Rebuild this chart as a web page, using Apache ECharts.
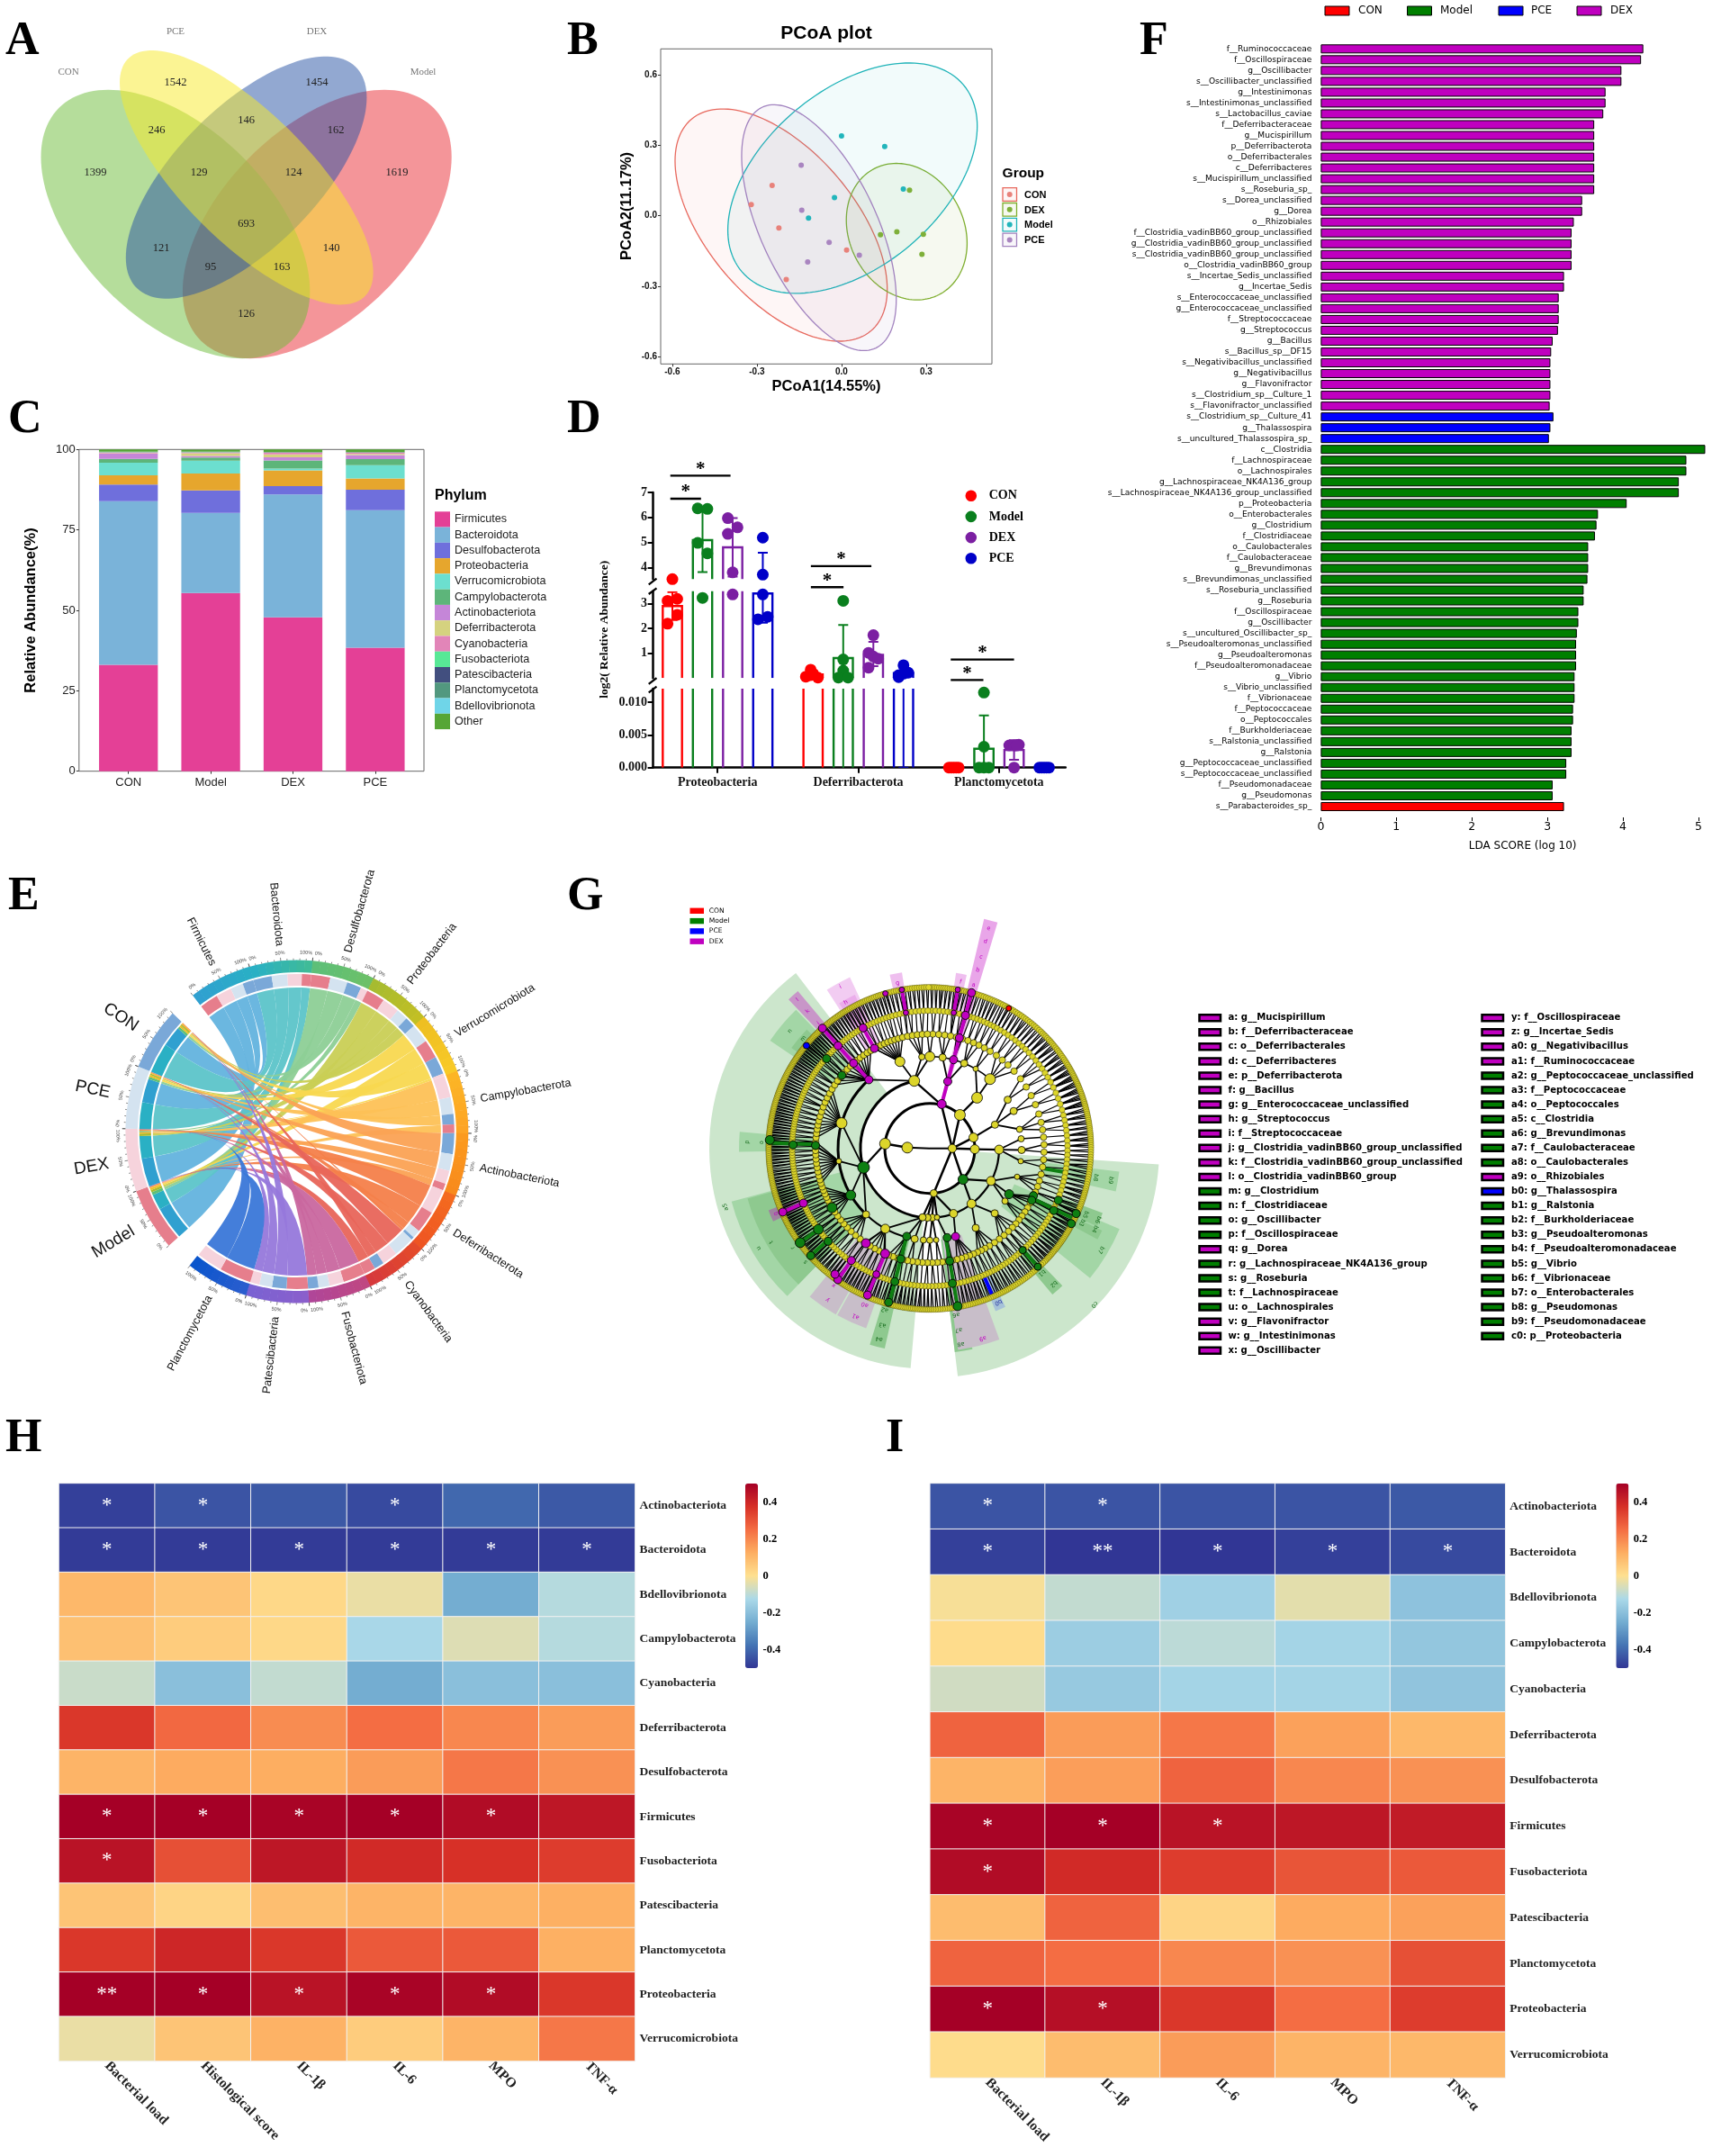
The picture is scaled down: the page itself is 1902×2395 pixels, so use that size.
<!DOCTYPE html>
<html><head><meta charset="utf-8">
<style>html,body{margin:0;padding:0;background:#fff}#c{width:1902px;height:2395px}</style>
<script src="https://cdn.jsdelivr.net/npm/echarts@6/dist/echarts.min.js"></script>
</head><body><div id="c"></div>
<script>
/* ---------- data ---------- */
const vennSets=['CON','PCE','DEX','Model'];
const vennCounts=[1399,1542,1454,1619,246,146,162,129,124,693,121,140,95,163,126];

const pcoaGroups=['CON','DEX','Model','PCE'];
const pcoaCON=[[-0.246,0.129],[-0.32,0.047],[-0.222,-0.052],[0.018,-0.146],[-0.196,-0.272]];
const pcoaDEX=[[0.241,0.109],[0.138,-0.081],[0.196,-0.069],[0.29,-0.079],[0.285,-0.165]];
const pcoaModel=[[0,0.34],[0.153,0.295],[0.219,0.114],[-0.025,0.077],[-0.117,-0.01]];
const pcoaPCE=[[-0.143,0.215],[-0.141,0.023],[-0.044,-0.114],[0.063,-0.168],[-0.12,-0.197]];
// centre x, half width, centre y, half height, correlation
const pcoaEllipses=[[-0.214,0.376,-0.04,0.495,-0.552],[0.231,0.214,-0.068,0.291,-0.17],[0.039,0.442,0.16,0.491,0.452],[-0.08,0.274,-0.051,0.524,-0.583]];

const stackCats=['CON','Model','DEX','PCE'];
const phyla=['Firmicutes','Bacteroidota','Desulfobacterota','Proteobacteria','Verrucomicrobiota','Campylobacterota','Actinobacteriota','Deferribacterota','Cyanobacteria','Fusobacteriota','Patescibacteria','Planctomycetota','Bdellovibrionota','Other'];
const stackCON=[33.1,50.8,5.2,2.9,3.9,1.2,1.6,0.1,0.3,0.05,0.05,0.05,0.05,0.7];
const stackModel=[55.4,24.9,7,5.2,4,1,0.5,0.8,0.3,0.05,0.05,0.05,0.05,0.65];
const stackDEX=[47.8,38.2,2.6,4.9,0.6,2.5,1,0.9,0.5,0.05,0.05,0.05,0.05,0.8];
const stackPCE=[38.4,42.7,6.4,3.5,4.1,1.9,1.3,0.3,0.4,0.05,0.05,0.05,0.05,0.8];

const dCats=['Proteobacteria','Deferribacterota','Planctomycetota'];
const dGroups=['CON','Model','DEX','PCE'];
const dMean=[[2.9,0.15,0],[5.09,0.81,0.0029],[4.8,0.94,0.0027],[3.41,0.2,0]];
const dErrHi=[[3.46,0.28,0],[6.38,2.14,0.008],[5.97,1.46,0.0042],[4.59,0.42,0]];
const dErrLo=[[2.34,0.02,0],[3.81,-0.5,-0.002],[3.63,0.48,0.0012],[2.23,0,0]];
const dDots=[
 [[3.53,3.11,3.19,2.55,2.19],[0.34,0.18,0.12,0.06,0.02],[0,0,0,0,0]],
 [[6.36,6.34,4.98,4.56,3.23],[3.11,0.75,0.3,0.02,0.02],[0.0115,0.0032,0,0,0]],
 [[5.97,5.6,5.34,3.8,3.37],[1.73,1.02,0.87,0.78,0.42],[0.0034,0.0034,0.0035,0.0034,0]],
 [[5.19,3.71,3.37,2.37,2.47],[0.52,0.22,0.18,0.12,0.04],[0,0,0,0,0]]];
const dJitter=[
 [[0,-1,1,1,-1],[-0.5,0,-0.5,-1.5,1],[-1,-0.5,0,0.5,1]],
 [[-1,1,-1,1,0],[0,0,0,-1,1],[0,0,-1,0,1]],
 [[-1,1,-1,0,0],[0,-1,0,1,-1],[-1,0,1,0.5,0]],
 [[0,0,0,-1,1],[0,1,0,-1,-1],[-1,-0.5,0,0.5,1]]];
const dSig=[[-0.336,0.092,7.67],[-0.336,-0.118,6.75],[0.663,1.093,4.05],[0.663,0.895,3.21],[1.657,2.107,0.31],[1.657,1.889,-0.51]];

const fNamesDEX=['f__Ruminococcaceae','f__Oscillospiraceae','g__Oscillibacter','s__Oscillibacter_unclassified','g__Intestinimonas','s__Intestinimonas_unclassified','s__Lactobacillus_caviae','f__Deferribacteraceae','g__Mucispirillum','p__Deferribacterota','o__Deferribacterales','c__Deferribacteres','s__Mucispirillum_unclassified','s__Roseburia_sp_','s__Dorea_unclassified','g__Dorea','o__Rhizobiales','f__Clostridia_vadinBB60_group_unclassified','g__Clostridia_vadinBB60_group_unclassified','s__Clostridia_vadinBB60_group_unclassified','o__Clostridia_vadinBB60_group','s__Incertae_Sedis_unclassified','g__Incertae_Sedis','s__Enterococcaceae_unclassified','g__Enterococcaceae_unclassified','f__Streptococcaceae','g__Streptococcus','g__Bacillus','s__Bacillus_sp__DF15','s__Negativibacillus_unclassified','g__Negativibacillus','g__Flavonifractor','s__Clostridium_sp__Culture_1','s__Flavonifractor_unclassified'];
const fValsDEX=[4.27,4.24,3.98,3.98,3.77,3.77,3.74,3.62,3.62,3.62,3.62,3.62,3.62,3.62,3.46,3.46,3.35,3.32,3.32,3.32,3.32,3.22,3.22,3.15,3.15,3.15,3.14,3.07,3.05,3.04,3.04,3.04,3.04,3.03];
const fNamesPCE=['s__Clostridium_sp__Culture_41','g__Thalassospira','s__uncultured_Thalassospira_sp_'];
const fValsPCE=[3.08,3.04,3.02];
const fNamesModel=['c__Clostridia','f__Lachnospiraceae','o__Lachnospirales','g__Lachnospiraceae_NK4A136_group','s__Lachnospiraceae_NK4A136_group_unclassified','p__Proteobacteria','o__Enterobacterales','g__Clostridium','f__Clostridiaceae','o__Caulobacterales','f__Caulobacteraceae','g__Brevundimonas','s__Brevundimonas_unclassified','s__Roseburia_unclassified','g__Roseburia','f__Oscillospiraceae','g__Oscillibacter','s__uncultured_Oscillibacter_sp_','s__Pseudoalteromonas_unclassified','g__Pseudoalteromonas','f__Pseudoalteromonadaceae','g__Vibrio','s__Vibrio_unclassified','f__Vibrionaceae','f__Peptococcaceae','o__Peptococcales','f__Burkholderiaceae','s__Ralstonia_unclassified','g__Ralstonia','g__Peptococcaceae_unclassified','s__Peptococcaceae_unclassified','f__Pseudomonadaceae','g__Pseudomonas'];
const fValsModel=[5.09,4.84,4.84,4.74,4.74,4.05,3.67,3.65,3.63,3.54,3.54,3.54,3.53,3.48,3.48,3.41,3.41,3.39,3.38,3.38,3.38,3.36,3.36,3.36,3.34,3.34,3.32,3.32,3.32,3.25,3.25,3.07,3.07];
const fNamesCON=['s__Parabacteroides_sp_'];
const fValsCON=[3.22];

const ePhyla=['Firmicutes','Bacteroidota','Desulfobacterota','Proteobacteria','Verrucomicrobiota','Campylobacterota','Actinobacteriota','Deferribacterota','Cyanobacteria','Fusobacteriota','Patescibacteria','Planctomycetota'];
const eGroups=['Model','DEX','PCE','CON'];
const ePhylumShares=[
 [['Model',.32],['DEX',.27],['PCE',.22],['CON',.19]],
 [['CON',.32],['PCE',.27],['DEX',.25],['Model',.16]],
 [['Model',.33],['PCE',.30],['CON',.25],['DEX',.12]],
 [['Model',.32],['DEX',.30],['PCE',.20],['CON',.18]],
 [['PCE',.33],['Model',.32],['CON',.31],['DEX',.04]],
 [['DEX',.38],['PCE',.29],['CON',.18],['Model',.15]],
 [['CON',.36],['PCE',.29],['DEX',.23],['Model',.12]],
 [['DEX',.43],['Model',.38],['PCE',.14],['CON',.05]],
 [['PCE',.36],['DEX',.27],['CON',.17],['Model',.20]],
 [['Model',.38],['DEX',.25],['PCE',.19],['CON',.18]],
 [['Model',.37],['CON',.25],['PCE',.22],['DEX',.16]],
 [['Model',.55],['DEX',.45]]];
const eGroupShares={
 Model:[57,27,5,4,3,1,1,.7,.5,.3,.3,.2],
 DEX:[49,39,2,4,.5,2.5,1,.9,.5,.2,.2,.2],
 PCE:[41,46,4,2.5,3.3,1.3,1,.2,.3,.1,.1,0],
 CON:[35,52,4,2.5,3,1,1.5,.1,.3,.1,.1,0]};

const gLegendA=[['a: g__Mucispirillum','D'],['b: f__Deferribacteraceae','D'],['c: o__Deferribacterales','D'],['d: c__Deferribacteres','D'],['e: p__Deferribacterota','D'],['f: g__Bacillus','D'],['g: g__Enterococcaceae_unclassified','D'],['h: g__Streptococcus','D'],['i: f__Streptococcaceae','D'],['j: g__Clostridia_vadinBB60_group_unclassified','D'],['k: f__Clostridia_vadinBB60_group_unclassified','D'],['l: o__Clostridia_vadinBB60_group','D'],['m: g__Clostridium','M'],['n: f__Clostridiaceae','M'],['o: g__Oscillibacter','M'],['p: f__Oscillospiraceae','M'],['q: g__Dorea','D'],['r: g__Lachnospiraceae_NK4A136_group','M'],['s: g__Roseburia','M'],['t: f__Lachnospiraceae','M'],['u: o__Lachnospirales','M'],['v: g__Flavonifractor','D'],['w: g__Intestinimonas','D'],['x: g__Oscillibacter','D']];
const gLegendB=[['y: f__Oscillospiraceae','D'],['z: g__Incertae_Sedis','D'],['a0: g__Negativibacillus','D'],['a1: f__Ruminococcaceae','D'],['a2: g__Peptococcaceae_unclassified','M'],['a3: f__Peptococcaceae','M'],['a4: o__Peptococcales','M'],['a5: c__Clostridia','M'],['a6: g__Brevundimonas','M'],['a7: f__Caulobacteraceae','M'],['a8: o__Caulobacterales','M'],['a9: o__Rhizobiales','D'],['b0: g__Thalassospira','P'],['b1: g__Ralstonia','M'],['b2: f__Burkholderiaceae','M'],['b3: g__Pseudoalteromonas','M'],['b4: f__Pseudoalteromonadaceae','M'],['b5: g__Vibrio','M'],['b6: f__Vibrionaceae','M'],['b7: o__Enterobacterales','M'],['b8: g__Pseudomonas','M'],['b9: f__Pseudomonadaceae','M'],['c0: p__Proteobacteria','M']];
// cladogram: inner nodes [radius, angle, size]
const gInner=[[25,-88,6],[25,90,4.6],[50,-84,6],[50,42,6],[50,76,5],[50,91,5],[50,175,4],
 [77,-13,6],[77,43,6],[77,70,4],[77,91,5],[77,118,5],[77,143,5],[77,160,4.5],[77,178,4],[77,182,4],[77,186,4],[77,174,3],
 [102,-74,6],[102,-19,5.5],[102,-5,3.5],[102,0,5.5],[102,8,4],[102,22,4],[102,30,3],[102,41,6],[102,58,4],[102,66,4],[102,78,3.5],[102,84,3.5],[102,91,4],[102,98,3],[102,108,3],[102,125,3.5],[102,135,4],[102,150,4],[102,176,3],[102,180,3.5],[102,184,3.5],[102,189.5,4],[102,209,5],[102,224,4],[102,262,3]];
// highlighted nodes [radius, angle, size, class]
const gHi=[[51,15,5,'D'],[77,15,4.5,'D'],[102,15,4.5,'D'],[127,15,4.5,'D'],[153,15,4.5,'D'],[179,15,4.5,'D'],[102,-41.6,4.5,'D'],[127,-41.8,4.5,'D'],[153,-41.8,4.5,'D'],[179,-41.8,4.5,'D'],[127,-29,4.5,'D'],[153,-29,4.5,'D'],[179,-16,3,'D'],[179,-10,3,'D'],[153,-10,3,'D'],[179,10,3,'D'],[153,10,3,'D'],[153,246.6,4.5,'D'],[178,246.6,4.5,'D'],[152,215,4.5,'D'],[178,215,4.5,'D'],[175,217,4.5,'D'],[127,214,5,'D'],[127,203,5,'D'],[152,203,4,'D'],[177,203,4.5,'D'],[102,163.7,4.5,'D'],
 [76.6,-106,6.5,'M'],[102,239.4,5.5,'M'],[127,238.8,5.5,'M'],[152,-49,4.5,'M'],[127,-50.3,4.5,'M'],[127,-88.5,4.5,'M'],[152,-88.5,4.5,'M'],[178,-87,5,'M'],[153,234,5.5,'M'],[178,234,5.5,'M'],[153,227.6,4.5,'M'],[178,228,4.5,'M'],[50.5,133,5.5,'M'],[101.7,120,5,'M'],[126.5,114.5,4.5,'M'],[154,116.6,4.5,'M'],[178,114,4.5,'M'],[127,117,4.5,'M'],[154,112,4.5,'M'],[178,118,4.5,'M'],[153,137.6,4,'M'],[178,137.6,4,'M'],[101,169,4.5,'M'],[127,170,4.5,'M'],[152,170.5,4.5,'M'],[178,170,5,'M'],[101,194.7,4.5,'M'],[127,194.7,4.5,'M'],[153,194.7,4.5,'M'],[177,195,4.5,'M'],[178.4,-50.2,3.5,'P'],[178.7,29.4,3,'C']];
const gChains=[['D',15,51,179],['D',-41.8,102,179],['D',-29,127,153],['D',-10,153,179],['D',10,153,179],['D',246.6,153,178],['D',215,152,178],['D',203,127,177],['M',-88,127,178],['M',234,153,178],['M',228,153,178],['M',116,127,178],['M',137.6,153,178],['M',170,101,178],['M',194.7,101,177],['M',100,128,153],['P',157,150,178]];
// node counts per 15 degree sector, clockwise from north
const gCount127=[5,5,4,3,3,4,4,5,6,5,7,6,6,6,5,6,8,7,7,6,6,7,8,6];
const gCount153=[9,10,8,7,6,7,8,8,10,11,12,10,10,11,10,12,14,13,14,13,14,12,11,9];
const gCount179=[20,18,17,20,24,20,17,22,24,18,20,18,22,20,22,25,28,25,28,26,28,25,22,18];
const gArcs=[[50,0,360,3],[77,-187,-13,3],[77,91,178,2.2],[102,-136,-42,3],[102,-5,41,1.5],[127,-60,-42,2],[102,189,224,2],[127,95,170,1.4],[153,180,215,1.2]];
// clade shading [angle1, angle2, r1, r2, colour]
const gShades=[[185,322.6,77,245,'#cce6cc'],[94,173,50,255,'#cce6cc'],[224,255,102,228,'#a3d6a6'],[224,254.6,127,210,'#8ec98f'],[-56,-44,127,214,'#a3d6a6'],[-54,-46,152,190,'#8ec98f'],[113,129,102,229,'#a3d6a6'],[97,103,127,212,'#a3d6a6'],[110.5,115,153,205,'#8ec98f'],[115.5,118.5,127,212,'#8ec98f'],[192.7,197,102,228,'#8ec98f'],[168,173,102,228,'#8ec98f'],[136,140,153,212,'#8ec98f'],[-91,-85,127,212,'#a3d6a6'],[160,172,102,226,'#c8bec9'],[199.5,209,127,212,'#c8bec9'],[209.5,219,127,212,'#c8bec9'],[13.3,16.7,51,262,'rgba(192,0,192,.35)'],[-33,-25,127,210,'rgba(192,0,192,.2)'],[-32,-26,153,190,'rgba(192,0,192,.15)'],[-43.5,-40,102,228,'rgba(192,0,192,.35)'],[-13,-9,179,198,'rgba(192,0,192,.25)'],[8.5,12,153,197,'rgba(192,0,192,.25)'],[245,249,153,192,'rgba(192,0,192,.35)'],[154.5,158,153,195,'rgba(120,150,230,.45)']];
const gTags=[['e',15,253,'D'],['d',15,238,'D'],['c',15,220,'D'],['b',15,205,'D'],['a',15,188,'D'],['f',10.5,188,'D'],['g',-11,187,'D'],['h',-29.9,187,'D'],['i',-29,205,'D'],['j',-41.7,186,'D'],['k',-41.7,204,'D'],['l',-41.7,221,'D'],['m',-49,186,'M'],['n',-50,203,'M'],['o',-88,187,'M'],['p',-88,203,'M'],['q',247,186,'D'],['r',234,188,'M'],['s',227.6,187,'M'],['t',239.4,204.6,'M'],['u',239.7,220,'M'],['x',215,186,'D'],['y',214,203,'D'],['a0',202.6,188,'D'],['a1',203.8,204,'D'],['a2',195.6,186,'M'],['a3',195,203,'M'],['a4',194.9,219,'M'],['a5',254,236,'M'],['a6',171,187,'M'],['a7',171,204,'M'],['a8',171,220,'M'],['a9',164.4,219,'D'],['b0',156,187,'P'],['b1',138,186,'M'],['b2',137.6,204,'M'],['b3',116,188,'M'],['b4',116,204,'M'],['b5',113,188,'M'],['b6',113,203,'M'],['b7',120.7,221,'M'],['b8',100,187,'M'],['b9',100,204,'M'],['c0',133.5,252,'M']];

const heatRows=['Actinobacteriota','Bacteroidota','Bdellovibrionota','Campylobacterota','Cyanobacteria','Deferribacterota','Desulfobacterota','Firmicutes','Fusobacteriota','Patescibacteria','Planctomycetota','Proteobacteria','Verrucomicrobiota'];
const hCols=['Bacterial load','Histological score','IL-1β','IL-6','MPO','TNF-α'];
const hValues=[[-.48,-.44,-.43,-.46,-.40,-.43],[-.49,-.49,-.49,-.49,-.49,-.49],[.10,.07,.02,-.03,-.25,-.11],[.08,.05,.02,-.13,-.05,-.11],[-.08,-.2,-.09,-.25,-.2,-.2],[.36,.26,.19,.25,.2,.16],[.11,.13,.125,.16,.23,.18],[.5,.5,.49,.5,.47,.44],[.45,.31,.44,.39,.375,.35],[.07,.03,.085,.11,.11,.12],[.36,.40,.36,.29,.29,.12],[.5,.5,.45,.49,.47,.36],[-.03,.07,.115,.05,.11,.23]];
const hSig=[['*','*','','*','',''],['*','*','*','*','*','*'],[],[],[],[],[],['*','*','*','*','*',''],['*','','','','',''],[],[],['**','*','*','*','*',''],[]];
const iCols=['Bacterial load','IL-1β','IL-6','MPO','TNF-α'];
const iValues=[[-.44,-.44,-.44,-.44,-.43],[-.48,-.5,-.5,-.48,-.46],[-.01,-.09,-.15,-.04,-.19],[.01,-.16,-.1,-.14,-.18],[-.07,-.17,-.14,-.14,-.185],[.27,.16,.23,.15,.1],[.11,.155,.27,.2,.18],[.49,.5,.45,.44,.43],[.47,.39,.35,.3,.29],[.09,.27,.03,.13,.15],[.27,.25,.2,.18,.31],[.5,.46,.36,.25,.35],[.01,.09,.16,.11,.1]];
const iSig=[['*','*','','',''],['*','**','*','*','*'],[],[],[],[],[],['*','*','*','',''],['*','','','',''],[],[],['*','*','','',''],[]];
const heatTicks=[0.4,0.2,0,-0.2,-0.4];

/* ---------- helpers ---------- */
const SERIF='"Liberation Serif"',SANS='"Liberation Sans"',DJ='"DejaVu Sans"';
const grids=[],xAxes=[],yAxes=[],series=[],graphics=[],visualMaps=[];
const RAD=Math.PI/180;
function addGrid(l,t,w,h,gx,xa,ya){
  grids.push(Object.assign({left:l,top:t,width:w,height:h},gx||{}));
  const i=grids.length-1;
  xAxes.push(Object.assign({gridIndex:i},xa));
  yAxes.push(Object.assign({gridIndex:i},ya));
  return i;
}
function hiddenGrid(l,t,w,h,xr,yr,inv){
  return addGrid(l,t,w,h,null,{type:'value',show:false,min:xr[0],max:xr[1]},{type:'value',show:false,min:yr[0],max:yr[1],inverse:!!inv});
}
function custom(g,items,render,extra){
  series.push(Object.assign({type:'custom',coordinateSystem:'cartesian2d',xAxisIndex:g,yAxisIndex:g,silent:true,animation:false,progressive:0,
    data:items.map((d,i)=>[i]),encode:{x:0},renderItem:(p,api)=>render(items[p.dataIndex],api)},extra||{}));
}
function tEl(x,y,text,o){o=o||{};return {type:'text',x:x,y:y,rotation:o.rot||0,z2:o.z2||0,style:{text:String(text),fill:o.fill||'#000',fontSize:o.size||12,fontFamily:o.family||SANS,fontWeight:o.weight||'normal',align:o.align||'center',verticalAlign:o.valign||'middle'}};}
function T(x,y,text,o){const e=tEl(x,y,text,o);e.z=100;if(o&&o.shadow){Object.assign(e.style,{shadowBlur:3,shadowColor:'rgba(0,0,0,.45)',shadowOffsetX:1,shadowOffsetY:1});}graphics.push(e);}
function R(x,y,w,h,fill,stroke,lw){graphics.push({type:'rect',z:100,shape:{x:x,y:y,width:w,height:h},style:{fill:fill,stroke:stroke||null,lineWidth:lw||0}});}
function C(x,y,r,fill){graphics.push({type:'circle',z:100,shape:{cx:x,cy:y,r:r},style:{fill:fill}});}
function L(x1,y1,x2,y2,lw){graphics.push({type:'line',z:100,shape:{x1:x1,y1:y1,x2:x2,y2:y2},style:{stroke:'#000',lineWidth:lw}});}
function ellipsePts(api,e){const pts=[],s=Math.sqrt(1-e[4]*e[4]);for(let k=0;k<144;k++){const t=k/144*2*Math.PI;pts.push(api.coord([e[0]+e[1]*Math.cos(t),e[2]+e[3]*(e[4]*Math.cos(t)+s*Math.sin(t))]));}return pts;}
// panel letters
[['A',6,47],['B',630,47],['F',1266,47],['C',9,467],['D',630,467],['E',9,997],['G',630,997],['H',6,1599],['I',984,1599]].forEach(a=>T(a[1],a[2],a[0],{size:52,weight:'bold',family:SERIF,align:'left',shadow:true}));

/* ---------- A venn ---------- */
(function(){
  const g=hiddenGrid(0,0,520,420,[0,520],[0,420],true);
  const shapes=[[352.3,149.4,249,149.2,-.5,'rgba(233,43,51,.5)'],[194.9,149.4,249,149.2,.5,'rgba(108,187,56,.5)'],[273.6,133.8,197.2,134.5,-.66,'rgba(37,81,163,.5)'],[273.8,140.8,197.2,141.2,.746,'rgba(247,233,40,.5)']];
  custom(g,shapes,(s,api)=>({type:'polygon',shape:{points:ellipsePts(api,s)},style:{fill:s[5]}}));
  const setPos=[[76,80],[195,35],[352,35],[470,80]];
  const cntPos=[[106,192],[195,92],[352,92],[441,192],[174,145],[273.6,134],[373,145],[221,192],[326,192],[273.6,249],[179,276],[368,276],[234,297],[313,297],[273.6,349]];
  custom(g,vennSets.map((s,i)=>[s,setPos[i]]),(d,api)=>{const p=api.coord(d[1]);return tEl(p[0],p[1],d[0],{size:11,family:SERIF,fill:'#777'});});
  custom(g,vennCounts.map((s,i)=>[s,cntPos[i]]),(d,api)=>{const p=api.coord(d[1]);return tEl(p[0],p[1],d[0],{size:12.5,family:SERIF,fill:'#222'});});
})();

/* ---------- B PCoA ---------- */
(function(){
  const tickLab={color:'#111',fontSize:10,fontWeight:'bold',fontFamily:SANS,margin:4,formatter:v=>(+v).toFixed(1)};
  const g=addGrid(734,54.3,368,350,{show:true,borderColor:'#666',borderWidth:1,backgroundColor:'transparent'},
   {type:'value',min:-0.641,max:0.533,splitLine:{show:false},axisLine:{show:false,onZero:false},axisTick:{show:true,length:3,lineStyle:{color:'#333'},customValues:[-.6,-.3,0,.3]},axisLabel:Object.assign({customValues:[-.6,-.3,0,.3]},tickLab)},
   {type:'value',min:-0.632,max:0.711,splitLine:{show:false},axisLine:{show:false,onZero:false},axisTick:{show:true,length:3,lineStyle:{color:'#333'},customValues:[-.6,-.3,0,.3,.6]},axisLabel:Object.assign({customValues:[-.6,-.3,0,.3,.6]},tickLab)});
  const cols=['#e8695e','#7fae2f','#1fb3b8','#a283bf'],pts=[pcoaCON,pcoaDEX,pcoaModel,pcoaPCE];
  const fills=['rgba(232,105,94,.06)','rgba(127,174,47,.07)','rgba(31,179,184,.06)','rgba(162,131,191,.07)'];
  const dots=['#e8827b','#7eb03a','#22b5bb','#a985c0'];
  custom(g,pcoaEllipses.map((e,i)=>e.concat([cols[i],fills[i]])),(e,api)=>({type:'polygon',shape:{points:ellipsePts(api,e)},style:{fill:e[6],stroke:e[5],lineWidth:1.3}}));
  pts.forEach((d,i)=>series.push({type:'scatter',name:'p'+pcoaGroups[i],xAxisIndex:g,yAxisIndex:g,data:d,symbolSize:6,itemStyle:{color:dots[i],opacity:1},silent:true,animation:false,z:4}));
  T(918,37,'PCoA plot',{size:21,weight:'bold'});
  T(918,429,'PCoA1(14.55%)',{size:16.5,weight:'bold'});
  T(696,229,'PCoA2(11.17%)',{size:16.5,weight:'bold',rot:Math.PI/2});
  T(1113.6,192.7,'Group',{size:15.5,weight:'bold',align:'left'});
  pcoaGroups.forEach((n,i)=>{const y=208.7+i*16.8;R(1114,y,15.5,14.6,fills[i],cols[i],1.3);C(1121.7,y+7.3,3,dots[i]);T(1138,y+8,n,{size:11,weight:'bold',align:'left'});});
})();

/* ---------- C stacked bars ---------- */
(function(){
  addGrid(87.8,499.3,383.2,357.4,{show:true,borderColor:'#666',borderWidth:1,backgroundColor:'transparent'},
   {type:'value',show:false,min:0,max:1},
   {type:'value',min:0,max:100,interval:25,splitLine:{show:false},axisLine:{show:false},axisTick:{show:true,length:3,lineStyle:{color:'#333'}},axisLabel:{fontSize:13,color:'#222',margin:4,fontFamily:SANS}});
  const g=addGrid(97,499.3,365.6,357.4,null,
   {type:'category',data:stackCats,axisLine:{show:false},axisTick:{show:true,alignWithLabel:true,length:3,lineStyle:{color:'#333'}},axisLabel:{fontSize:13,color:'#222',margin:6,fontFamily:SANS}},
   {type:'value',show:false,min:0,max:100});
  const cols=['#e44096','#7ab3d9','#6f6fdc','#e6a62d','#6cdfcf','#5db57a','#c586d8','#d5d27f','#e285b8','#58e896','#424f7f','#52987f','#6fd5e8','#56a636'];
  phyla.forEach((n,i)=>series.push({type:'bar',name:n,stack:'c',xAxisIndex:g,yAxisIndex:g,barWidth:65.3,data:[stackCON[i],stackModel[i],stackDEX[i],stackPCE[i]],itemStyle:{color:cols[i]},silent:true,animation:false}));
  T(34,678,'Relative Abundance(%)',{size:16.5,weight:'bold',rot:Math.PI/2});
  T(483,551,'Phylum',{size:16,weight:'bold',align:'left'});
  window.__cLegend={data:phyla,orient:'vertical',left:483,top:568.3,itemWidth:17,itemHeight:17.27,itemGap:0,icon:'rect',padding:0,selectedMode:false,textStyle:{fontSize:12.6,color:'#222',fontFamily:SANS}};
})();

/* ---------- D broken-axis bars ---------- */
(function(){
  const xr=[-0.4615,2.473],L0=725.1,W0=458.7;
  const cols=['#ff0000','#0a7f1e','#7b1fa2','#0000c8'];
  const lab={fontSize:14,fontWeight:'bold',fontFamily:SERIF,color:'#111',margin:6};
  const yax=(mn,mx,vals,fmt)=>({type:'value',min:mn,max:mx,splitLine:{show:false},axisLine:{show:true,onZero:false,lineStyle:{color:'#000',width:2.5}},axisTick:{show:true,length:5.5,lineStyle:{color:'#000',width:2},customValues:vals},axisLabel:Object.assign({customValues:vals,formatter:fmt},lab)});
  const xHidden={type:'value',show:false,min:xr[0],max:xr[1]};
  const gTop=addGrid(L0,547,W0,96.3,null,xHidden,yax(3.53,7,[4,5,6,7],v=>String(v)));
  const gMid=addGrid(L0,656.7,W0,96.6,null,xHidden,yax(0,3.5,[1,2,3],v=>String(v)));
  const gBot=addGrid(L0,765,W0,87.7,null,
    {type:'value',min:xr[0],max:xr[1],splitLine:{show:false},axisLine:{show:true,onZero:false,lineStyle:{color:'#000',width:2.5}},axisTick:{show:true,length:6,lineStyle:{color:'#000',width:2},customValues:[0,1,2]},axisLabel:Object.assign({},lab,{margin:10,customValues:[0,1,2],formatter:v=>dCats[Math.round(v)]})},
    yax(0,0.0121,[0,.005,.01],v=>(+v).toFixed(3)));
  const step=0.2142,off=i=>(i-1.5)*step;
  const barItems=[];
  dGroups.forEach((n,s)=>dCats.forEach((c,k)=>barItems.push({s:s,k:k,x:k+off(s),m:dMean[s][k],hi:dErrHi[s][k],lo:dErrLo[s][k]})));
  const drawBar=(b,api)=>{
    const cx=api.coord([b.x,0])[0],y0=api.coord([b.x,0])[1],yt=api.coord([b.x,b.m])[1],hw=10.7,col=cols[b.s];
    const ch=[];
    if(b.m>0) ch.push({type:'polyline',shape:{points:[[cx-hw,y0],[cx-hw,yt],[cx+hw,yt],[cx+hw,y0]]},style:{fill:'none',stroke:col,lineWidth:2.4}});
    if(b.hi!==b.lo){const yh=api.coord([b.x,b.hi])[1],yl=api.coord([b.x,b.lo])[1];
      ch.push({type:'line',shape:{x1:cx,y1:yh,x2:cx,y2:yl},style:{stroke:col,lineWidth:2}});
      ch.push({type:'line',shape:{x1:cx-5.5,y1:yh,x2:cx+5.5,y2:yh},style:{stroke:col,lineWidth:2}});
      ch.push({type:'line',shape:{x1:cx-5.5,y1:yl,x2:cx+5.5,y2:yl},style:{stroke:col,lineWidth:2}});}
    return {type:'group',children:ch};
  };
  custom(gTop,barItems.filter(b=>b.k===0),drawBar,{clip:true});
  custom(gMid,barItems.filter(b=>b.k<=1),drawBar,{clip:true});
  custom(gBot,barItems,drawBar,{clip:true});
  dGroups.forEach((n,s)=>{
    const top=[],mid=[],bot=[];
    dCats.forEach((c,k)=>dDots[s][k].forEach((v,j)=>{
      const pt=[k+off(s)+dJitter[s][k][j]*0.0343,v];
      if(k===2)bot.push(pt);else if(v>=3.5)top.push(pt);else mid.push(pt);}));
    [[gTop,top],[gMid,mid],[gBot,bot]].forEach(a=>{if(a[1].length)series.push({type:'scatter',name:'d'+n,xAxisIndex:a[0],yAxisIndex:a[0],data:a[1],symbolSize:13,clip:false,itemStyle:{color:cols[s],opacity:1},silent:true,animation:false,z:5});});
  });
  custom(gTop,dSig,(d,api)=>{const a=api.coord([d[0],d[2]]),b=api.coord([d[1],d[2]]);
    return {type:'group',children:[{type:'line',shape:{x1:a[0],y1:a[1],x2:b[0],y2:a[1]},style:{stroke:'#000',lineWidth:2.4}},tEl((a[0]+b[0])/2,a[1]-7,'*',{size:21,weight:'bold',family:SERIF})]};},{clip:false});
  dGroups.forEach((n,i)=>{const y=550.7+i*23.2;C(1078.8,y,6.3,cols[i]);T(1098.7,y,n,{size:14,weight:'bold',family:SERIF,align:'left'});});
  T(671.4,699.3,'log2( Relative Abundance)',{size:13.5,weight:'bold',family:SERIF,rot:Math.PI/2});
  [646,656.7,756.5,766].forEach(y=>L(720.7,y+3.3,729.5,y-3.3,2.2));
})();

/* ---------- F LDA bars ---------- */
(function(){
  const names=fNamesDEX.concat(fNamesPCE,fNamesModel,fNamesCON);
  const col={D:'#bf00bf',P:'#0000ff',M:'#007f00',C:'#ff0000'};
  const vals=[].concat(fValsDEX.map(v=>[v,col.D]),fValsPCE.map(v=>[v,col.P]),fValsModel.map(v=>[v,col.M]),fValsCON.map(v=>[v,col.C]));
  const g=addGrid(1467.4,48.3,427.9,853.7,null,
   {type:'value',min:0,max:5.1,offset:6,splitLine:{show:false},axisLine:{show:false},axisTick:{show:true,length:4,lineStyle:{color:'#000',width:1},customValues:[0,1,2,3,4,5]},axisLabel:{customValues:[0,1,2,3,4,5],fontSize:12.5,fontFamily:DJ,color:'#000',margin:4}},
   {type:'category',inverse:true,data:names,axisLine:{show:false},axisTick:{show:false},axisLabel:{interval:0,fontSize:9.1,fontFamily:DJ,color:'#000',margin:10}});
  series.push({type:'bar',xAxisIndex:g,yAxisIndex:g,barWidth:10,silent:true,animation:false,data:vals.map(v=>({value:v[0],itemStyle:{color:v[1],borderColor:'#000',borderWidth:1}}))});
  T(1691.7,940,'LDA SCORE (log 10)',{size:12,family:DJ});
  [['CON',1472,1509,col.C],['Model',1563.5,1600,col.M],['PCE',1665,1701,col.P],['DEX',1752,1789,col.D]].forEach(a=>{R(a[1],7,27,10,a[3],'#000',1);T(a[2],12,a[0],{size:12,family:DJ,align:'left'});});
})();

/* ---------- E chord ---------- */
(function(){
  const cx=329.8,cy=1257,S=280;
  const g=hiddenGrid(cx-S,cy-S,2*S,2*S,[-S,S],[-S,S]);
  const P=(api,th,r)=>api.coord([r*Math.sin(th*RAD),r*Math.cos(th*RAD)]);
  const span=21.33,start=-37.4,gStart=228.3;
  const ringCols=[['#30a0d0','#2aaec6'],['#2ab0c4','#3fbb98'],['#5dbf78','#6cc068'],['#a6bb30','#c2bf24'],['#eebf22','#f8c927'],['#fcb525','#fda424'],['#fb9a1e','#f88a1c'],['#f46a1f','#ee5522'],['#e44a2a','#d6393b'],['#bf4782','#b04698'],['#8a5fcc','#7a62d2'],['#2a5dce','#0a55cc']];
  const linkCols=['#63b3de','#5cc4c9','#8dcf96','#c9cf55','#f8d850','#fdc156','#fba254','#f47f4a','#e8655a','#c9679f','#9678db','#3a77d8'];
  const grpCols={Model:'#e67e8c',DEX:'#f6d3dc',PCE:'#d4e3f0',CON:'#7aa8d8'};
  const sect=(api,r0,r1,a,b,fill)=>{const c=api.coord([0,0]);return {type:'sector',shape:{cx:c[0],cy:c[1],r0:r0,r:r1,startAngle:(a-90)*RAD,endAngle:(b-90)*RAD,clockwise:true},style:{fill:fill}};};
  const mix=(c1,c2,t)=>{const h=s=>[1,3,5].map(i=>parseInt(s.substr(i,2),16));const a=h(c1),b=h(c2);return 'rgb('+a.map((v,i)=>Math.round(v+(b[i]-v)*t)).join(',')+')';};
  const outer=[],inner=[],links=[],ticks=[];
  const grpPhStart={};
  eGroups.forEach((n,j)=>{
    const a0=gStart+j*span,tot=eGroupShares[n].reduce((s,v)=>s+v,0);
    const ord=eGroupShares[n].map((v,i)=>[i,v]).filter(d=>d[1]>0).sort((x,y)=>y[1]-x[1]);
    let a=a0;grpPhStart[n]={};
    ord.forEach(d=>{const w=d[1]/tot*span;grpPhStart[n][d[0]]=[a,a+w];inner.push([162,175,a,a+w,ringCols[d[0]][0]]);a+=w;});
    outer.push([177,190.5,a0,a0+span,grpCols[n]]);
    ticks.push(a0);
  });
  ePhyla.forEach((n,i)=>{
    const a0=start+i*span;
    for(let k=0;k<8;k++)outer.push([177,190.5,a0+k*span/8,a0+(k+1)*span/8+.15,mix(ringCols[i][0],ringCols[i][1],k/7)]);
    let a=a0;ePhylumShares[i].forEach(d=>{const w=d[1]*span;inner.push([162,175,a,a+w,grpCols[d[0]]]);
      const b=grpPhStart[d[0]][i];if(b)links.push([a,a+w,b[0],b[1],linkCols[i]]);a+=w;});
    ticks.push(a0);
  });
  custom(g,links,(l,api)=>{
    const r=160,c=api.coord([0,0]);
    const p1=P(api,l[0],r),p2=P(api,l[1],r),p3=P(api,l[2],r),p4=P(api,l[3],r);
    const d='M'+p1[0]+' '+p1[1]+' A'+r+' '+r+' 0 0 1 '+p2[0]+' '+p2[1]+' Q'+c[0]+' '+c[1]+' '+p3[0]+' '+p3[1]+' A'+r+' '+r+' 0 0 1 '+p4[0]+' '+p4[1]+' Q'+c[0]+' '+c[1]+' '+p1[0]+' '+p1[1]+' Z';
    return {type:'path',shape:{pathData:d},style:{fill:l[4],opacity:.95}};
  });
  custom(g,outer.concat(inner),(o,api)=>sect(api,o[0],o[1],o[2],o[3],o[4]));
  const tk=[];
  ticks.forEach(a0=>{for(let k=0;k<=10;k++)tk.push([a0+k/10*span,k%5===0]);
    ['0%','50%','100%'].forEach((s,i)=>tk.push([a0+i/2*span+(i===0?1.7:i===2?-2.3:0),s]));});
  custom(g,tk,(t,api)=>{
    if(typeof t[1]==='string'){const p=P(api,t[0],199);let th=((t[0]%360)+360)%360;let rot=-t[0]*RAD;if(th>90&&th<270)rot+=Math.PI;return tEl(p[0],p[1],t[1],{size:5.5,fill:'#444',rot:rot});}
    const a=P(api,t[0],190.5),b=P(api,t[0],t[1]?194:192.3);return {type:'line',shape:{x1:a[0],y1:a[1],x2:b[0],y2:b[1]},style:{stroke:'#333',lineWidth:.6}};
  });
  const rad=[];
  ePhyla.forEach((n,i)=>rad.push([n,start+(i+.5)*span,207,12.6]));
  eGroups.forEach((n,j)=>rad.push([n,gStart+(j+.5)*span,212,19]));
  custom(g,rad,(d,api)=>{const th=((d[1]%360)+360)%360,p=P(api,th,d[2]),right=th<180;
    return tEl(p[0],p[1],d[0],{size:d[3],align:right?'left':'right',rot:right?Math.PI/2-th*RAD:-Math.PI/2-th*RAD,fill:'#111'});});
})();

/* ---------- G cladogram ---------- */
(function(){
  const cx=1033,cy=1275.7,S=270;
  const g=hiddenGrid(cx-S,cy-S,2*S,2*S,[-S,S],[-S,S]);
  const P=(api,th,r)=>api.coord([r*Math.sin(th*RAD),r*Math.cos(th*RAD)]);
  const col={D:'#c000c0',M:'#0e7f12',P:'#0000ff',C:'#ff0000',Y:'#dcd52a'};
  custom(g,gShades,(s,api)=>{const c=api.coord([0,0]);return {type:'sector',shape:{cx:c[0],cy:c[1],r0:s[2],r:s[3],startAngle:(s[0]-90)*RAD,endAngle:(s[1]-90)*RAD,clockwise:true},style:{fill:s[4]}};});
  const rings={25:[],50:[],77:[],102:[],127:[],153:[],179:[]},keys=[25,50,77,102,127,153,179];
  const near=r=>keys.reduce((a,b)=>Math.abs(b-r)<Math.abs(a-r)?b:a);
  gInner.forEach(n=>rings[n[0]].push(n[1]));
  gHi.forEach(n=>rings[near(n[0])].push(n[1]));
  const nodes=gInner.map(n=>[n[0],n[1],n[2],col.Y,.8]);
  [[127,gCount127,3.6,.6],[153,gCount153,3.3,.35],[179,gCount179,3.2,.3]].forEach(a=>a[1].forEach((c,i)=>{
    for(let k=0;k<c;k++){const th=i*15+(k+.5)/c*15;rings[a[0]].push(th);nodes.push([a[0],th,a[2],col.Y,a[3]]);}
  }));
  const diff=(a,b)=>{const d=Math.abs(((a-b)%360+360)%360);return Math.min(d,360-d);};
  const edges=[];
  const lw={50:2.5,77:2.2,102:1.8,127:1.4,153:1.2,179:1.3};
  [50,77,102,127,153,179].forEach((r,i)=>{const pr=keys[i];rings[r].forEach(th=>{
    let best=rings[pr][0];rings[pr].forEach(t=>{if(diff(t,th)<diff(best,th))best=t;});edges.push([best,pr,th,r,lw[r]]);});});
  edges.push([-88,0,-88,25,2],[90,0,90,25,2]);
  custom(g,gArcs,(a,api)=>{const c=api.coord([0,0]);return {type:'arc',shape:{cx:c[0],cy:c[1],r:a[0],startAngle:(a[1]-90)*RAD,endAngle:(a[2]-90)*RAD,clockwise:true},style:{fill:'none',stroke:'#000',lineWidth:a[3]}};});
  custom(g,edges,(e,api)=>{const a=P(api,e[0],e[1]),b=P(api,e[2],e[3]);return {type:'line',shape:{x1:a[0],y1:a[1],x2:b[0],y2:b[1]},style:{stroke:'#000',lineWidth:e[4]}};});
  custom(g,gChains,(e,api)=>{const a=P(api,e[1],e[2]),b=P(api,e[1],e[3]);return {type:'line',shape:{x1:a[0],y1:a[1],x2:b[0],y2:b[1]},style:{stroke:col[e[0]],lineWidth:4}};});
  const all=nodes.concat(gHi.map(n=>[n[0],n[1],n[2],col[n[3]],.9]));
  custom(g,all,(n,api)=>{const p=P(api,n[1],n[0]);return {type:'circle',shape:{cx:p[0],cy:p[1],r:n[2]},style:{fill:n[3],stroke:'#000',lineWidth:n[4]}};});
  custom(g,gTags,(t,api)=>{const p=P(api,t[1],t[2]);return tEl(p[0],p[1],t[0],{size:6.5,fill:t[3]==='D'?'#c000c0':t[3]==='P'?'#2030a0':'#146a1a',rot:-t[1]*RAD,family:DJ});});
  [['CON',col.C],['Model','#007f00'],['PCE',col.P],['DEX',col.D]].forEach((a,i)=>{const y=1008.6+i*11.3;R(766.5,y,15.5,6.4,a[1]);T(787.8,y+3.2,a[0],{size:7.6,family:DJ,align:'left'});});
  const lc={D:'#c000c0',M:'#007f00',P:'#0000ff'};
  [[gLegendA,1332.5,1364.5],[gLegendB,1646.5,1679]].forEach(c=>c[0].forEach((d,i)=>{const y=1130.7+i*16.07;
    R(c[1],y-3.5,23.5,7,lc[d[1]],'#000',2.5);T(c[2],y,d[0],{size:10.1,family:DJ,weight:'bold',align:'left'});}));
})();

/* ---------- H / I heat maps ---------- */
const heatColors=['#313695','#4575b4','#74add1','#abd9e9','#fee090','#fdae61','#f46d43','#d73027','#a50026'];
function heat(left,top,w,h,cols,vals,sig,barX,lblX){
  const g=addGrid(left,top,w,h,null,
   {type:'category',data:cols,position:'bottom',axisLine:{show:false},axisTick:{show:false},axisLabel:{interval:0,rotate:-45,fontSize:15.5,fontWeight:'bold',fontFamily:SERIF,color:'#222',margin:3}},
   {type:'category',data:heatRows,inverse:true,position:'right',axisLine:{show:false},axisTick:{show:false},axisLabel:{interval:0,fontSize:13.5,fontWeight:'bold',fontFamily:SERIF,color:'#222',margin:5}});
  const data=[];
  vals.forEach((row,r)=>row.forEach((v,c)=>data.push([c,r,v,(sig[r]&&sig[r][c])||''])));
  series.push({type:'heatmap',xAxisIndex:g,yAxisIndex:g,data:data,silent:true,animation:false,progressive:0,
    itemStyle:{borderColor:'#f2f2f2',borderWidth:1},
    label:{show:true,color:'#fff',fontSize:23,fontFamily:SERIF,formatter:p=>p.value[3]}});
  visualMaps.push({type:'continuous',min:-0.5,max:0.5,dimension:2,seriesIndex:series.length-1,calculable:false,left:barX,top:1648,itemWidth:14,itemHeight:205,padding:0,text:null,showLabel:false,hoverLink:false,inRange:{color:heatColors},textStyle:{fontSize:0}});
  heatTicks.forEach(v=>T(lblX,1750.5-v*205,String(v),{size:12.5,weight:'bold',family:SERIF,align:'left'}));
}
heat(65.5,1647.9,639.9,641.6,hCols,hValues,hSig,828,847.5);
heat(1033.3,1647.9,639,660.1,iCols,iValues,iSig,1795.4,1814.7);

/* ---------- render ---------- */
const chart=echarts.init(document.getElementById('c'),null,{width:1902,height:2395});
chart.setOption({animation:false,backgroundColor:'#fff',tooltip:{show:false},grid:grids,xAxis:xAxes,yAxis:yAxes,series:series,visualMap:visualMaps,legend:[window.__cLegend],graphic:{elements:graphics}});
</script></body></html>
